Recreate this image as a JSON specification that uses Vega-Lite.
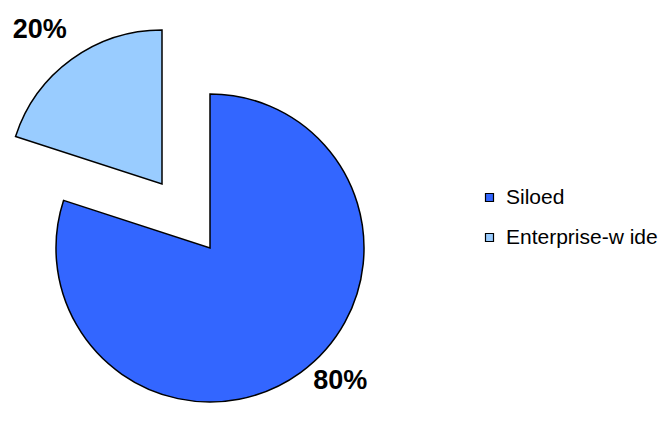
{
  "$schema": "https://vega.github.io/schema/vega-lite/v6.json",
  "width": 420,
  "height": 496,
  "autosize": "none",
  "padding": {"left": 0, "top": 0, "right": 242, "bottom": 0},
  "background": "white",
  "config": {"view": {"stroke": null}, "font": "Liberation Sans"},
  "data": {"values": [
    {"category": "Siloed", "value": 80, "label": "80%"},
    {"category": "Enterprise-w ide", "value": 20, "label": "20%"}
  ]},
  "encoding": {
    "theta": {"field": "value", "type": "quantitative", "stack": true},
    "order": {"field": "value", "sort": "descending"}
  },
  "layer": [
    {
      "mark": {"type": "arc", "radius": 154, "stroke": "black", "strokeWidth": 1.5},
      "encoding": {
        "color": {"field": "category", "type": "nominal", "sort": ["Siloed", "Enterprise-w ide"],
          "scale": {"domain": ["Siloed", "Enterprise-w ide"], "range": ["#3366FF", "#99CCFF"]},
          "legend": {"title": null, "orient": "none", "legendX": 479, "legendY": 187,
            "symbolType": "square", "symbolSize": 64, "symbolStrokeColor": "black", "symbolStrokeWidth": 1.2,
            "labelFontSize": 21, "labelFont": "Liberation Sans", "labelColor": "black", "labelOffset": 6,
            "rowPadding": 18, "padding": 0, "labelLimit": 300}},
        "opacity": {"condition": {"test": "datum.category === 'Siloed'", "value": 1}, "value": 0}
      }
    },
    {
      "mark": {"type": "arc", "radius": 154, "stroke": "black", "strokeWidth": 1.5, "xOffset": -48, "yOffset": -64},
      "encoding": {
        "color": {"field": "category", "type": "nominal", "sort": ["Siloed", "Enterprise-w ide"]},
        "opacity": {"condition": {"test": "datum.category === 'Siloed'", "value": 0}, "value": 1}
      }
    },
    {
      "mark": {"type": "text", "radius": 186, "dx": 21, "dy": -17, "fontSize": 27, "fontWeight": "bold", "font": "Liberation Sans", "color": "black"},
      "encoding": {
        "text": {"field": "label"},
        "opacity": {"condition": {"test": "datum.category === 'Siloed'", "value": 1}, "value": 0}
      }
    },
    {
      "mark": {"type": "text", "radius": 276, "dx": -8, "dy": 5, "fontSize": 27, "fontWeight": "bold", "font": "Liberation Sans", "color": "black"},
      "encoding": {
        "text": {"field": "label"},
        "opacity": {"condition": {"test": "datum.category === 'Siloed'", "value": 0}, "value": 1}
      }
    }
  ]
}
